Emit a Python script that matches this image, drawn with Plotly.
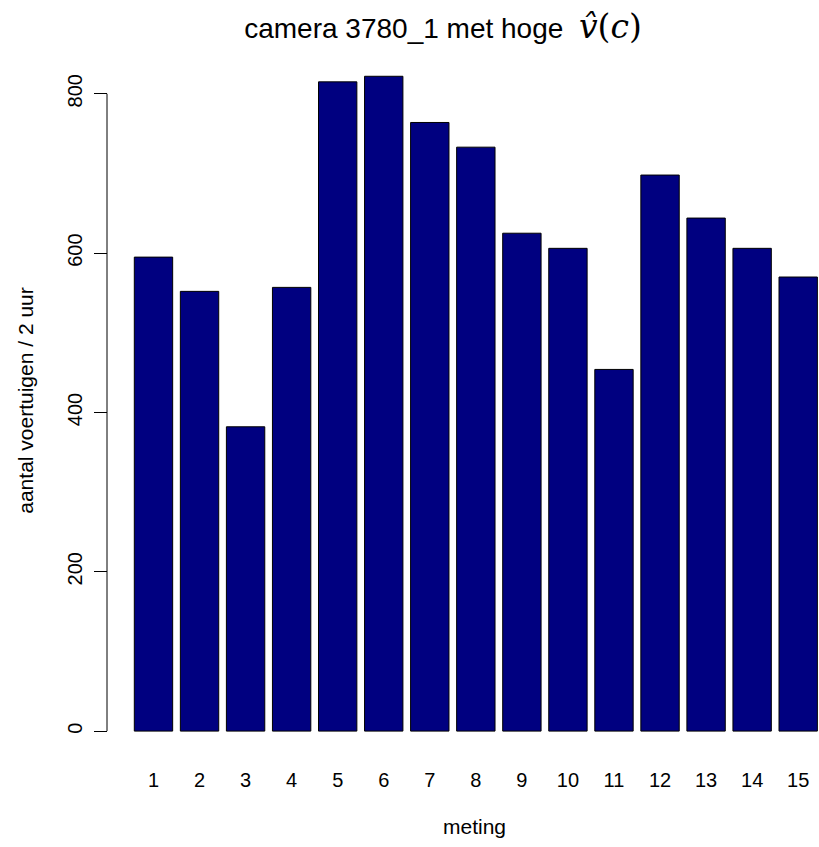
import plotly.graph_objects as go

# vehicle counts per measurement (meting 1..15)
meting = list(range(1, 16))
aantal = [595, 552, 382, 557, 815, 822, 764, 733, 625, 606, 454, 698, 644, 606, 570]
y_ticks = [0, 200, 400, 600, 800]

FONT = "Liberation Sans, Arial, sans-serif"
W, H = 819, 847
ML, MR, MT, MB = 107, 0, 46, 92
axis_gap = 23  # distance between y-axis line and the plotting region

fig = go.Figure(
    go.Bar(
        x=meting,
        y=aantal,
        marker=dict(color="#000080", line=dict(color="#000000", width=1)),
        hoverinfo="x+y",
    )
)

title_text = (
    "camera 3780_1 met hoge  "
    "<span style='font-family:DejaVu Serif;font-size:33px'><i>v\u0302</i>(<i>c</i>)</span>"
)

fig.update_layout(
    width=W,
    height=H,
    margin=dict(l=ML, r=MR, t=MT, b=MB, pad=0),
    paper_bgcolor="white",
    plot_bgcolor="white",
    bargap=0.1667,
    showlegend=False,
    font=dict(family=FONT, color="black"),
    title=dict(
        text=title_text,
        x=443 / W,
        xref="container",
        xanchor="center",
        y=1 - 28 / H,
        yref="container",
        yanchor="middle",
        font=dict(size=28, family=FONT, color="black"),
    ),
    xaxis=dict(
        domain=[axis_gap / (W - ML - MR), 1],
        range=[0.49, 15.452],
        tickmode="array",
        tickvals=meting,
        ticktext=[str(m) for m in meting],
        showline=False,
        showgrid=False,
        zeroline=False,
        ticks="",
        tickfont=dict(size=20, family=FONT),
        ticklabelstandoff=11,
        title=dict(text="meting", font=dict(size=21, family=FONT), standoff=29),
    ),
    yaxis=dict(
        range=[-30, 860],
        anchor="free",
        position=0,
        tickmode="array",
        tickvals=y_ticks,
        ticktext=[str(v) for v in y_ticks],
        showline=False,
        showgrid=False,
        zeroline=False,
        ticks="outside",
        ticklen=13,
        tickwidth=1,
        tickcolor="black",
        tickangle=-90,
        tickfont=dict(size=20, family=FONT),
        ticklabelstandoff=4,
        title=dict(text="aantal voertuigen / 2 uur", font=dict(size=21, family=FONT), standoff=23),
    ),
    shapes=[
        dict(
            type="line",
            xref="paper",
            yref="y",
            x0=0,
            x1=0,
            y0=y_ticks[0],
            y1=y_ticks[-1],
            line=dict(color="black", width=1),
        )
    ],
)

fig.write_html("out.html")
